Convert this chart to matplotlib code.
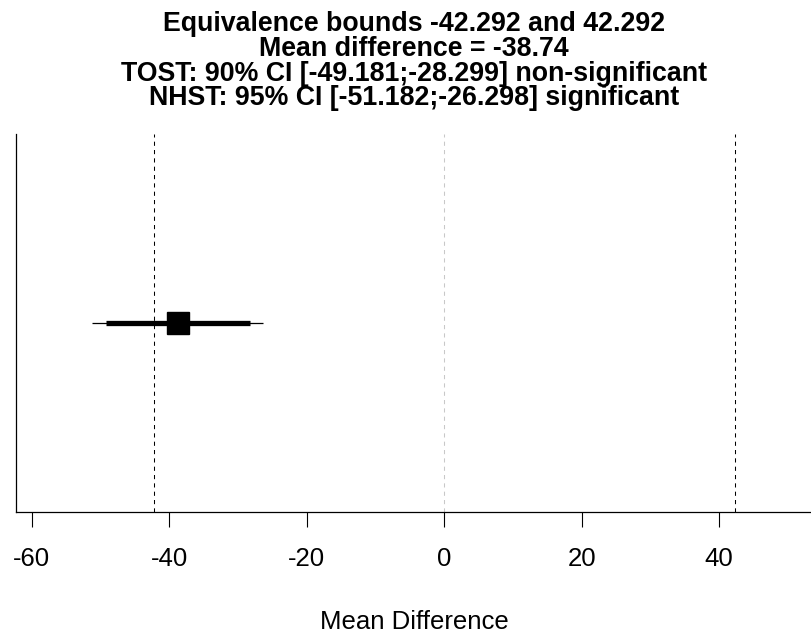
import matplotlib
matplotlib.use("Agg")
import matplotlib.pyplot as plt

# %% values
bound_low, bound_high = -42.292, 42.292
mean_diff = -38.74
ci90 = [-49.181, -28.299]
ci95 = [-51.182, -26.298]
xticks = [-60, -40, -20, 0, 20, 40]
title_lines = [
    "Equivalence bounds -42.292 and 42.292",
    "Mean difference = -38.74",
    "TOST: 90% CI [-49.181;-28.299] non-significant",
    "NHST: 95% CI [-51.182;-26.298] significant",
]

plt.rcParams["font.family"] = ["Liberation Sans", "DejaVu Sans"]

W, H = 812, 636
fig = plt.figure(figsize=(W / 100, H / 100), dpi=100)
ax = fig.add_axes([16 / W, (H - 512) / H, (W - 16) / W, (512 - 134) / H])

# %% reference lines
ax.axvline(0, color="#c8c8c8", lw=0.75, ls=(0, (4, 4)))
for b in (bound_low, bound_high):
    ax.axvline(b, color="black", lw=0.75, ls=(0, (4, 4)))

# %% CI bars and point estimate
ax.plot(ci95, [0.5, 0.5], color="black", lw=0.9, solid_capstyle="butt")
ax.plot(ci90, [0.5, 0.5], color="black", lw=3.8, solid_capstyle="butt")
ax.plot([mean_diff], [0.5], marker="s", ms=16.5, color="black", ls="none")

ax.set_xlim(-62.3, 53.5)
ax.set_ylim(0, 1)
ax.set_xticks(xticks)
ax.set_xticklabels([str(t) for t in xticks])
ax.set_yticks([])
ax.tick_params(axis="x", length=11, width=0.8, pad=14, labelsize=18.5)
for side in ("top", "right"):
    ax.spines[side].set_visible(False)
for side in ("left", "bottom"):
    ax.spines[side].set_linewidth(0.9)

ax.set_xlabel("Mean Difference", fontsize=18.5, labelpad=28)

# title lines, one per row like the R plot
cx = (16 + W) / 2 / W
for i, line in enumerate(title_lines):
    fig.text(cx, 1 - (24 + 24.8 * i) / H, line, ha="center", va="center",
             fontsize=19.3, fontweight="bold")

fig.savefig("out.png", dpi=100)
